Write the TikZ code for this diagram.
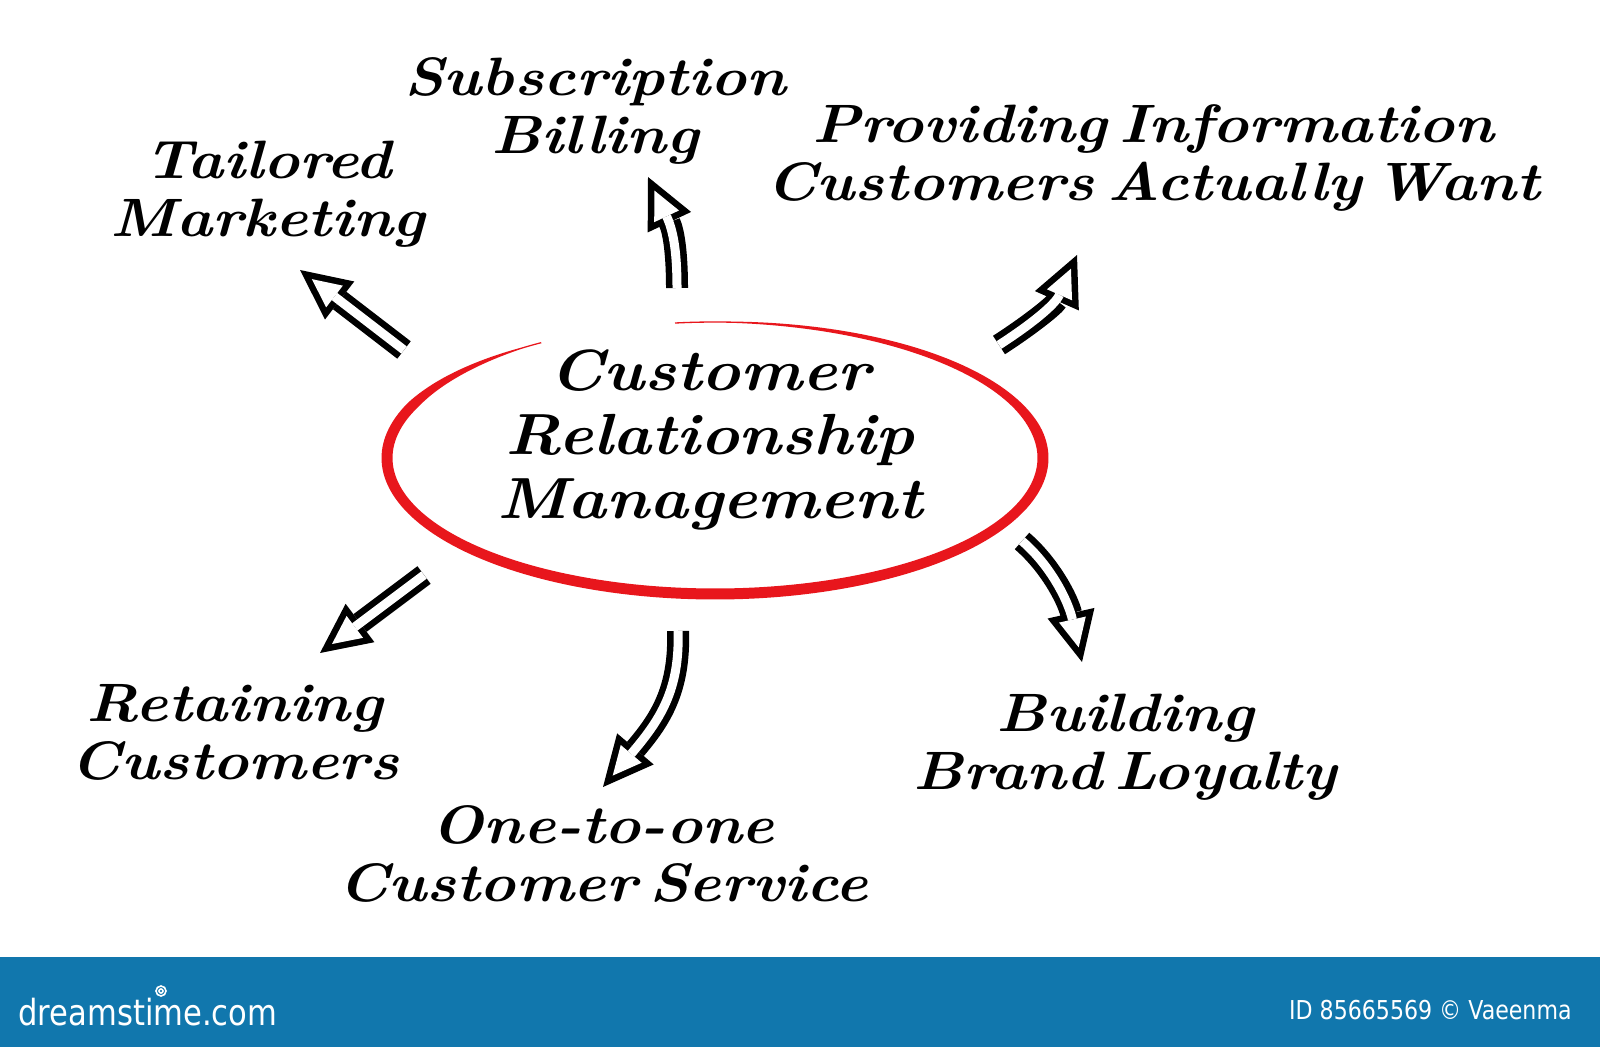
\documentclass[tikz,border=0pt]{standalone}
\usepackage{fontspec}
\newfontfamily\barfont[FakeStretch=0.85]{DejaVu Sans}
\newfontfamily\hand{lmroman10-bolditalic.otf}[FakeStretch=1.13,WordSpace=0.5]
\usetikzlibrary{arrows.meta}
\definecolor{crmred}{RGB}{232,22,28}
\definecolor{barblue}{RGB}{17,119,173}
\begin{document}
\begin{tikzpicture}[x=0.5pt,y=-0.5pt,
  lbl/.style={font=\hand\fontsize{27}{29}\selectfont, align=center, inner sep=0pt},
  crmlbl/.style={font=\hand\fontsize{29}{32}\selectfont, align=center, inner sep=0pt},
  hollow/.style={line width=11pt, -{Triangle[length=25pt,width=24pt,line width=0pt]},
    postaction={draw, white, line width=4.5pt, shorten >=7.5pt,
      -{Triangle[length=14.25pt,width=13.7pt,line width=0pt]}}},
  declare function={ew(\t)=11*max(0.12,min(1,(\t-122)/35,(457-\t)/85));}]
\useasboundingbox (0,0) rectangle (1600,1047);
\fill[white] (0,0) rectangle (1600,1047);
\fill[barblue] (0,957) rectangle (1600,1047);

% red ellipse stroke (tapered)
\fill[crmred] plot[domain=122:457, samples=220] ({715+(328+ew(\x)/2)*cos(\x)},{458-(136+ew(\x)/2)*sin(\x)})
  -- plot[domain=457:122, samples=220] ({715+(328-ew(\x)/2)*cos(\x)},{458-(136-ew(\x)/2)*sin(\x)}) -- cycle;

% labels
\node[crmlbl] (crm) at (710,440) {Customer\\Relationship\\Management};
\node[lbl] (sub) at (595,111) {Subscription\\Billing};
\node[lbl] (tail) at (268,194) {Tailored\\Marketing};
\node[lbl] (prov) at (1153,158) {Providing Information\\Customers Actually Want};
\node[lbl] (ret) at (235,732) {Retaining\\Customers};
\node[lbl] (one) at (603,854) {One-to-one\\Customer Service};
\node[lbl] (build) at (1125,747) {Building\\Brand Loyalty};

% arrow ends
\coordinate (aS1) at (404,350); \coordinate (aE1) at (300,270);
\coordinate (aS2) at (677,288); \coordinate (aE2) at (648,177);
\coordinate (aS3) at (999,345); \coordinate (aE3) at (1077,255);
\coordinate (aS4) at (424,575); \coordinate (aE4) at (320,653);
\coordinate (aS5) at (678,631); \coordinate (aE5) at (603,787);
\coordinate (aS6) at (1022,541); \coordinate (aE6) at (1082,662);

\draw[hollow] (aS1) -- (aE1);
\draw[hollow] (aS2) .. controls (677,255) and (674,232) .. (aE2);
\draw[hollow] (aS3) .. controls (1030,325) and (1055,305) .. (aE3);
\draw[hollow] (aS4) -- (aE4);
\draw[hollow] (aS5) .. controls (680,690) and (660,720) .. (aE5);
\draw[hollow] (aS6) .. controls (1050,565) and (1068,600) .. (aE6);

% footer bar
\node[font=\barfont\fontsize{18}{20}\selectfont, text=white, anchor=west, inner sep=0pt] (ds) at (18,1012) {dreamstime.com};
\draw[white, line width=0.8pt] (161,991) circle (5) (161,991) circle (2);
\node[font=\barfont\fontsize{13}{15}\selectfont, text=white, anchor=east, inner sep=0pt] (idt) at (1572,1010) {ID 85665569 © Vaeenma};
\end{tikzpicture}
\end{document}
